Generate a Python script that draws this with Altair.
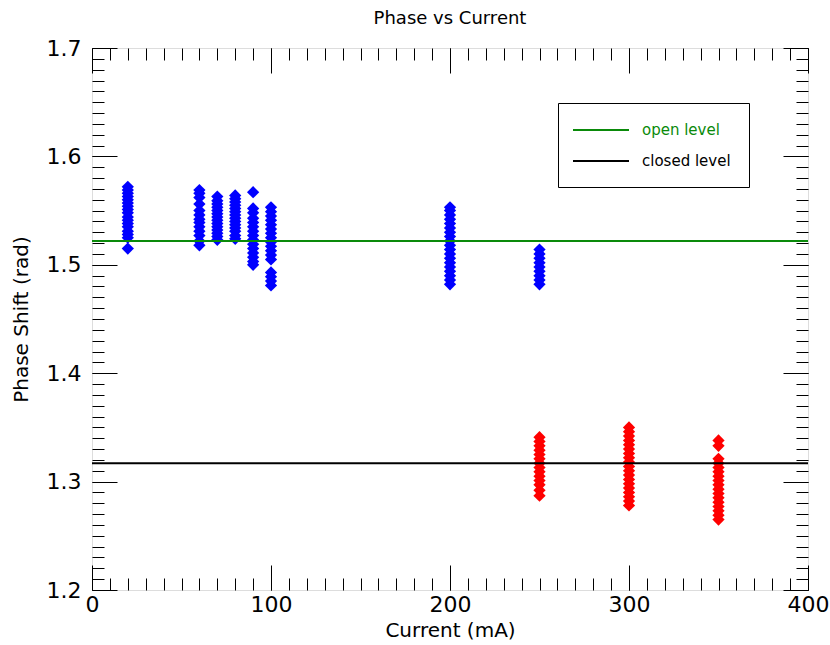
import altair as alt
import pandas as pd

FONT = "DejaVu Sans"

# ---- data ----
open_currents = [20, 60, 70, 80, 90, 100, 200, 250]
open_phases = [
    [1.515, 1.525, 1.528, 1.531, 1.535, 1.538, 1.541, 1.544, 1.548, 1.551, 1.554, 1.557, 1.560, 1.563, 1.566, 1.569, 1.572],
    [1.518, 1.522, 1.527, 1.531, 1.535, 1.539, 1.542, 1.546, 1.550, 1.556, 1.562, 1.566, 1.569],
    [1.523, 1.526, 1.529, 1.532, 1.535, 1.538, 1.541, 1.544, 1.547, 1.550, 1.553, 1.556, 1.559, 1.563],
    [1.524, 1.527, 1.531, 1.534, 1.537, 1.540, 1.543, 1.546, 1.549, 1.552, 1.555, 1.558, 1.561, 1.564],
    [1.500, 1.503, 1.507, 1.511, 1.515, 1.519, 1.523, 1.527, 1.531, 1.535, 1.539, 1.543, 1.548, 1.552, 1.567],
    [1.481, 1.485, 1.489, 1.493, 1.505, 1.509, 1.513, 1.517, 1.521, 1.525, 1.529, 1.533, 1.537, 1.541, 1.545, 1.549, 1.553],
    [1.482, 1.486, 1.490, 1.494, 1.498, 1.502, 1.506, 1.510, 1.514, 1.518, 1.522, 1.526, 1.530, 1.534, 1.538, 1.542, 1.546, 1.550, 1.553],
    [1.482, 1.486, 1.490, 1.494, 1.498, 1.502, 1.506, 1.510, 1.514],
]
closed_currents = [250, 300, 350]
closed_phases = [
    [1.287, 1.292, 1.297, 1.301, 1.305, 1.309, 1.313, 1.317, 1.321, 1.325, 1.329, 1.333, 1.337, 1.341],
    [1.278, 1.282, 1.286, 1.290, 1.294, 1.298, 1.302, 1.306, 1.310, 1.314, 1.318, 1.322, 1.326, 1.330, 1.334, 1.338, 1.342, 1.346, 1.350],
    [1.265, 1.269, 1.273, 1.277, 1.281, 1.285, 1.289, 1.293, 1.297, 1.301, 1.305, 1.309, 1.313, 1.317, 1.321, 1.333, 1.338],
]
level_names = ["open level", "closed level"]
level_values = [1.522, 1.317]
level_colors = ["#0a8a0a", "#000000"]

x_major = [0, 100, 200, 300, 400]
x_minor = list(range(0, 401, 10))
y_major = [1.2, 1.3, 1.4, 1.5, 1.6, 1.7]
y_minor = [round(1.2 + 0.01 * i, 2) for i in range(51)]

# ---- tables ----
def expand(currents, phases):
    rows = []
    for c, ps in zip(currents, phases):
        for p in ps:
            rows.append({"current": c, "phase": p})
    return pd.DataFrame(rows)

open_df = expand(open_currents, open_phases)
closed_df = expand(closed_currents, closed_phases)
levels_df = pd.DataFrame({"level": level_names, "phase": level_values})

xs = alt.Scale(domain=[0, 400], nice=False, zero=False)
ys = alt.Scale(domain=[1.2, 1.7], nice=False, zero=False)

label_x_axis = alt.Axis(
    values=x_major, format="d", ticks=False, tickSize=0, domain=False, grid=False,
    labelFont=FONT, labelFontSize=22, labelColor="black", labelPadding=4,
    labelFlush=False, labelOverlap=False,
    title="Current (mA)", titleFont=FONT, titleFontSize=20, titleFontWeight="normal",
    titleColor="black", titlePadding=5, orient="bottom",
)
label_y_axis = alt.Axis(
    values=y_major, format=".1f", ticks=False, tickSize=0, domain=False, grid=False,
    labelFont=FONT, labelFontSize=22, labelColor="black", labelPadding=11,
    labelFlush=False, labelOverlap=False,
    title="Phase Shift (rad)", titleFont=FONT, titleFontSize=20, titleFontWeight="normal",
    titleColor="black", titlePadding=15, orient="left",
)

marker = dict(shape="diamond", filled=True, size=150, opacity=1)

open_pts = alt.Chart(open_df).mark_point(color="#0000ff", **marker).encode(
    x=alt.X("current:Q", scale=xs, axis=label_x_axis),
    y=alt.Y("phase:Q", scale=ys, axis=label_y_axis),
)
closed_pts = alt.Chart(closed_df).mark_point(color="#ff0000", **marker).encode(
    x=alt.X("current:Q", scale=xs, axis=None),
    y=alt.Y("phase:Q", scale=ys, axis=None),
)


def tick_axis(values, orient, size):
    return alt.Axis(
        values=values, orient=orient, tickSize=size, offset=-size, labels=False,
        domain=False, grid=False, title=None, tickColor="black", tickWidth=1,
    )


def tick_layer(xvals, yvals, xo, yo, size):
    return alt.Chart(open_df).mark_point(opacity=0).encode(
        x=alt.X("current:Q", scale=xs, axis=tick_axis(xvals, xo, size)),
        y=alt.Y("phase:Q", scale=ys, axis=tick_axis(yvals, yo, size)),
    )


ticks = [
    tick_layer(x_minor, y_minor, "bottom", "left", 12),
    tick_layer(x_major, y_major, "bottom", "left", 25),
    tick_layer(x_minor, y_minor, "top", "right", 12),
    tick_layer(x_major, y_major, "top", "right", 25),
]

rules = alt.Chart(levels_df).mark_rule(strokeWidth=2).encode(
    y=alt.Y("phase:Q", scale=ys, axis=None),
    color=alt.Color(
        "level:N",
        scale=alt.Scale(domain=level_names, range=level_colors),
        legend=alt.Legend(
            title=None, orient="none", legendX=466, legendY=55,
            symbolType="M-1.5,0H5.5", symbolSize=256, symbolStrokeWidth=2,
            labelFont=FONT, labelFontSize=15, labelOffset=48,
            labelColor=alt.expr("datum.label == 'open level' ? '#0a8a0a' : 'black'"),
            padding=18, rowPadding=14, strokeColor="black", fillColor="white",
            cornerRadius=0,
        ),
    ),
)

chart = alt.layer(open_pts, closed_pts, *ticks, rules).resolve_axis(
    x="independent", y="independent"
).properties(
    width=716, height=542,
    padding={"left": 92, "top": 48, "right": 22, "bottom": 55},
    autosize="none",
    title=alt.TitleParams(
        "Phase vs Current", font=FONT, fontSize=18, fontWeight="normal",
        color="black", anchor="middle", offset=9,
    ),
).configure_view(stroke="black", strokeWidth=1.2).configure(background="white")

chart.save("out.html", embed_options={"renderer": "svg", "actions": False})
